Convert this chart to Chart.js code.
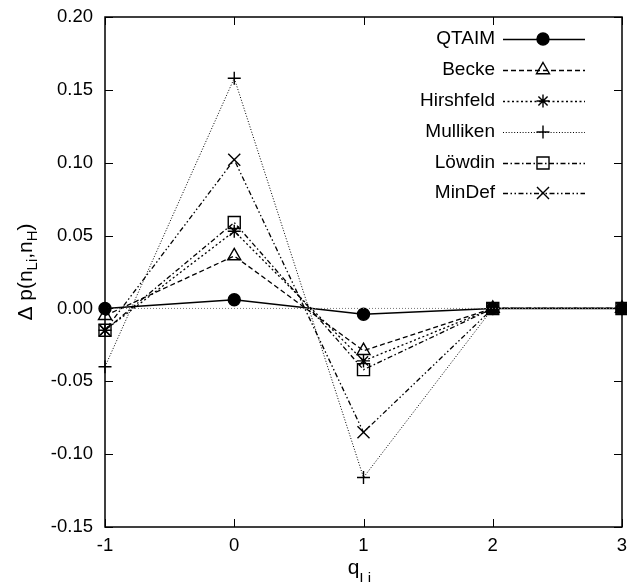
<!DOCTYPE html>
<html>
<head>
<meta charset="utf-8">
<script src="https://cdn.jsdelivr.net/npm/chart.js@4"></script>
<style>
  html, body { margin: 0; padding: 0; background: #fff; }
  #wrap { width: 627px; height: 582px; }
</style>
</head>
<body>
<div id="wrap"><canvas id="deltaChart" width="627" height="582"></canvas></div>
<script>
// values
var qLi = [-1, 0, 1, 2, 3];
var qtaim = [0.000, 0.006, -0.004, 0, 0];
var becke = [-0.005, 0.036, -0.029, 0, 0];
var hirshfeld = [-0.015, 0.053, -0.036, 0, 0];
var mulliken = [-0.040, 0.158, -0.116, 0, 0];
var lowdin = [-0.015, 0.059, -0.042, 0, 0];
var mindef = [-0.015, 0.102, -0.085, 0, 0];
var yTicks = [-0.15, -0.10, -0.05, 0.00, 0.05, 0.10, 0.15, 0.20];
var xTicks = [-1, 0, 1, 2, 3];

var FONT = '"Liberation Sans", Arial, sans-serif';

function pts(vals) {
    return qLi.map(function (q, i) { return { x: q, y: vals[i] }; });
}

function series(label, vals, dash, style, radius, fill, width) {
    return {
        label: label,
        data: pts(vals),
        showLine: true,
        clip: false,
        borderColor: '#000',
        backgroundColor: fill,
        borderWidth: width,
        borderDash: dash,
        pointStyle: style,
        pointRadius: radius,
        pointBorderWidth: 1.4,
        pointBorderColor: '#000',
        pointBackgroundColor: fill
    };
}

var datasets = [
    {
        label: 'zero',
        data: [{ x: -1, y: 0 }, { x: 3, y: 0 }],
        showLine: true,
        borderColor: '#777',
        borderWidth: 1,
        borderDash: [1, 2],
        pointRadius: 0
    },
    series('QTAIM', qtaim, [], 'circle', 6, '#000', 1.6),
    series('Becke', becke, [5, 3], 'triangle', 7.5, 'rgba(0,0,0,0)', 1.3),
    series('Hirshfeld', hirshfeld, [2, 2.5], 'star', 6.5, 'rgba(0,0,0,0)', 1.3),
    series('Mulliken', mulliken, [1, 1.8], 'cross', 6.5, 'rgba(0,0,0,0)', 1),
    series('Löwdin', lowdin, [5, 2.5, 1.5, 2.5], 'rect', 8.5, 'rgba(0,0,0,0)', 1.3),
    series('MinDef', mindef, [5, 2.5, 1.5, 2.5, 1.5, 2.5], 'crossRot', 8.5, 'rgba(0,0,0,0)', 1.3)
];

// frame, inward ticks, axis titles and the legend
var decorations = {
    id: 'decorations',
    afterDraw: function (chart) {
        var ctx = chart.ctx;
        var a = chart.chartArea;
        var xs = chart.scales.x, ys = chart.scales.y;
        ctx.save();
        ctx.strokeStyle = '#000';
        ctx.lineWidth = 1.5;
        ctx.setLineDash([]);
        ctx.strokeRect(a.left, a.top, a.right - a.left, a.bottom - a.top);
        ctx.lineWidth = 1;
        ctx.beginPath();
        yTicks.forEach(function (v) {
            var y = Math.round(ys.getPixelForValue(v)) + 0.5;
            ctx.moveTo(a.left, y); ctx.lineTo(a.left + 8, y);
            ctx.moveTo(a.right, y); ctx.lineTo(a.right - 8, y);
        });
        xTicks.forEach(function (v) {
            var x = Math.round(xs.getPixelForValue(v)) + 0.5;
            ctx.moveTo(x, a.bottom); ctx.lineTo(x, a.bottom - 8);
            ctx.moveTo(x, a.top); ctx.lineTo(x, a.top + 8);
        });
        ctx.stroke();

        // y title with subscripts
        ctx.fillStyle = '#000';
        ctx.translate(32, (a.top + a.bottom) / 2);
        ctx.rotate(-Math.PI / 2);
        var parts = [['Δ p(n', 0], ['Li', 1], [',n', 0], ['H', 1], [')', 0]];
        var big = '21px ' + FONT, small = '15px ' + FONT;
        var total = 0;
        parts.forEach(function (p) { ctx.font = p[1] ? small : big; total += ctx.measureText(p[0]).width; });
        var cx = -total / 2;
        ctx.textBaseline = 'alphabetic';
        ctx.textAlign = 'left';
        parts.forEach(function (p) {
            ctx.font = p[1] ? small : big;
            ctx.fillText(p[0], cx, p[1] ? 5 : 0);
            cx += ctx.measureText(p[0]).width;
        });
        ctx.setTransform(1, 0, 0, 1, 0, 0);

        // x title
        var midX = (a.left + a.right) / 2;
        ctx.font = big;
        var qw = ctx.measureText('q').width;
        ctx.font = small;
        var lw = ctx.measureText('Li').width;
        var sx = midX - (qw + lw) / 2 - 4;
        ctx.font = big;
        ctx.fillText('q', sx, 574);
        ctx.font = small;
        ctx.fillText('Li', sx + qw, 583);

        // legend
        var rows = [39, 70, 101, 132, 163, 193];
        chart.data.datasets.slice(1).forEach(function (ds, i) {
            var y = rows[i];
            ctx.font = '19px ' + FONT;
            ctx.textAlign = 'right';
            ctx.textBaseline = 'middle';
            ctx.fillStyle = '#000';
            ctx.fillText(ds.label, 495, y);
            ctx.strokeStyle = '#000';
            ctx.lineWidth = ds.borderWidth;
            ctx.setLineDash(ds.borderDash);
            ctx.beginPath();
            ctx.moveTo(503, y + 0.5);
            ctx.lineTo(585, y + 0.5);
            ctx.stroke();
            ctx.setLineDash([]);
            ctx.lineWidth = ds.pointBorderWidth;
            ctx.fillStyle = ds.pointBackgroundColor;
            Chart.helpers.drawPoint(ctx, {
                pointStyle: ds.pointStyle,
                radius: ds.pointRadius,
                borderWidth: ds.pointBorderWidth,
                rotation: 0
            }, 543, y);
        });
        ctx.restore();
    }
};

new Chart(document.getElementById('deltaChart').getContext('2d'), {
    type: 'scatter',
    data: { datasets: datasets },
    options: {
        responsive: false,
        animation: false,
        events: [],
        layout: { autoPadding: false, padding: { top: 17, right: 5, left: 0, bottom: 0 } },
        plugins: {
            legend: { display: false },
            tooltip: { enabled: false }
        },
        scales: {
            x: {
                type: 'linear',
                min: -1,
                max: 3,
                afterFit: function (s) {
                    s.height = 55;
                    s.paddingLeft = 0;
                    s.paddingRight = 0;
                },
                grid: { display: false },
                border: { display: false },
                ticks: {
                    stepSize: 1,
                    padding: 0,
                    color: '#000',
                    font: { family: FONT, size: 18.5 }
                }
            },
            y: {
                min: -0.15,
                max: 0.20,
                afterFit: function (s) {
                    s.width = 105;
                    s.paddingTop = 0;
                    s.paddingBottom = 0;
                },
                grid: { display: false },
                border: { display: false },
                ticks: {
                    stepSize: 0.05,
                    padding: 4,
                    color: '#000',
                    font: { family: FONT, size: 18.5 },
                    callback: function (v) { return v.toFixed(2); }
                }
            }
        }
    },
    plugins: [decorations]
});
</script>
</body>
</html>
